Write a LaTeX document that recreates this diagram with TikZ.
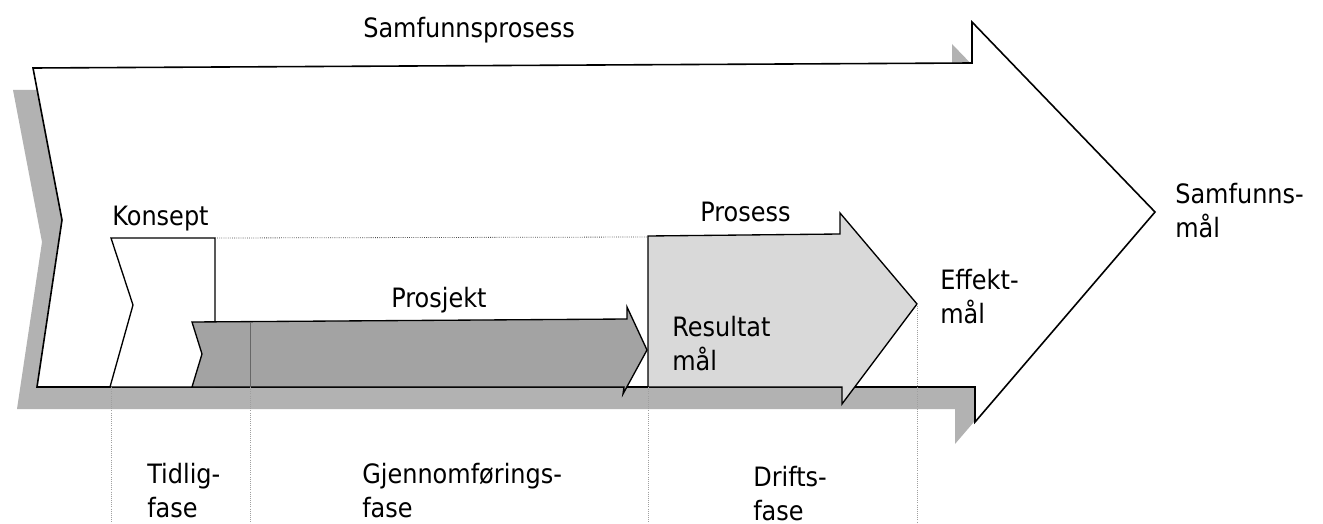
\documentclass[tikz,border=0pt]{standalone}
\usepackage{fontspec}
\setmainfont{DejaVu Sans}[FakeStretch=0.9]
\begin{document}
\begin{tikzpicture}[x=0.75pt,y=-0.75pt,
  outline/.style={draw=black,line width=1.2pt,line join=miter},
  inner/.style={draw=black,line width=1pt,line join=miter},
  lbl/.style={anchor=base west,inner sep=0pt,font=\fontsize{20}{25.5}\selectfont,align=left},
  guide/.style={draw=gray!75,line width=0.6pt,densely dotted},
  shadowfill/.style={fill=black!30}]
\useasboundingbox (0,0) rectangle (1323,524);

% outline of the society-process arrow
\def\bigarrow{(33,68) -- (972,63) -- (972,22) -- (1155,212) -- (975,422) -- (975,387) -- (37,387) -- (62,220) -- cycle}

% drop shadow, then the white arrow
\fill[shadowfill, shift={(-20,22)}] \bigarrow;
\filldraw[fill=white, outline] \bigarrow;

% concept phase
\filldraw[fill=white, inner] (111,238) -- (215,238) -- (215,387) -- (110,387) -- (133,305) -- cycle;

% project arrow
\filldraw[fill=black!36, inner] (192,322) -- (627,319) -- (627,307) -- (647,350) -- (623,394) -- (624,387) -- (192,387) -- (202,354) -- cycle;

% process arrow
\filldraw[fill=black!15, inner] (648,236) -- (840,234) -- (840,213) -- (917,304) -- (842,404) -- (842,387) -- (648,387) -- cycle;

% key points
\coordinate (kTop) at (215,238);
\coordinate (pTop) at (648,237);
\coordinate (g1t) at (111,387);  \coordinate (g1b) at (111,524);
\coordinate (g2t) at (250,322);  \coordinate (g2m) at (250,387); \coordinate (g2b) at (250,524);
\coordinate (g3t) at (648,387);  \coordinate (g3b) at (648,524);
\coordinate (g4t) at (917,304);  \coordinate (g4b) at (917,524);

% guide lines
\draw[guide, draw=black!70] (kTop) -- (pTop);
\draw[draw=black!60, line width=0.6pt] (g2t) -- (g2m);
\draw[guide] (g1t) -- (g1b);
\draw[guide] (g2m) -- (g2b);
\draw[guide] (g3t) -- (g3b);
\draw[guide] (g4t) -- (g4b);

% labels (multi-line nodes sit on the baseline of their last line)
\node[lbl] (samfprosess) at (363,38) {Samfunnsprosess};
\node[lbl] (konsept) at (112,225) {Konsept};
\node[lbl] (prosjekt) at (391,307) {Prosjekt};
\node[lbl] (prosess) at (700,221) {Prosess};
\node[lbl] (resultat) at (672,370) {Resultat\\mål};
\node[lbl] (effekt) at (940,323) {Effekt-\\mål};
\node[lbl] (samfmaal) at (1175,237) {Samfunns-\\mål};
\node[lbl] (tidlig) at (147,517) {Tidlig-\\fase};
\node[lbl] (gjennom) at (362,517) {Gjennomførings-\\fase};
\node[lbl] (drift) at (753,520) {Drifts-\\fase};
\end{tikzpicture}
\end{document}
